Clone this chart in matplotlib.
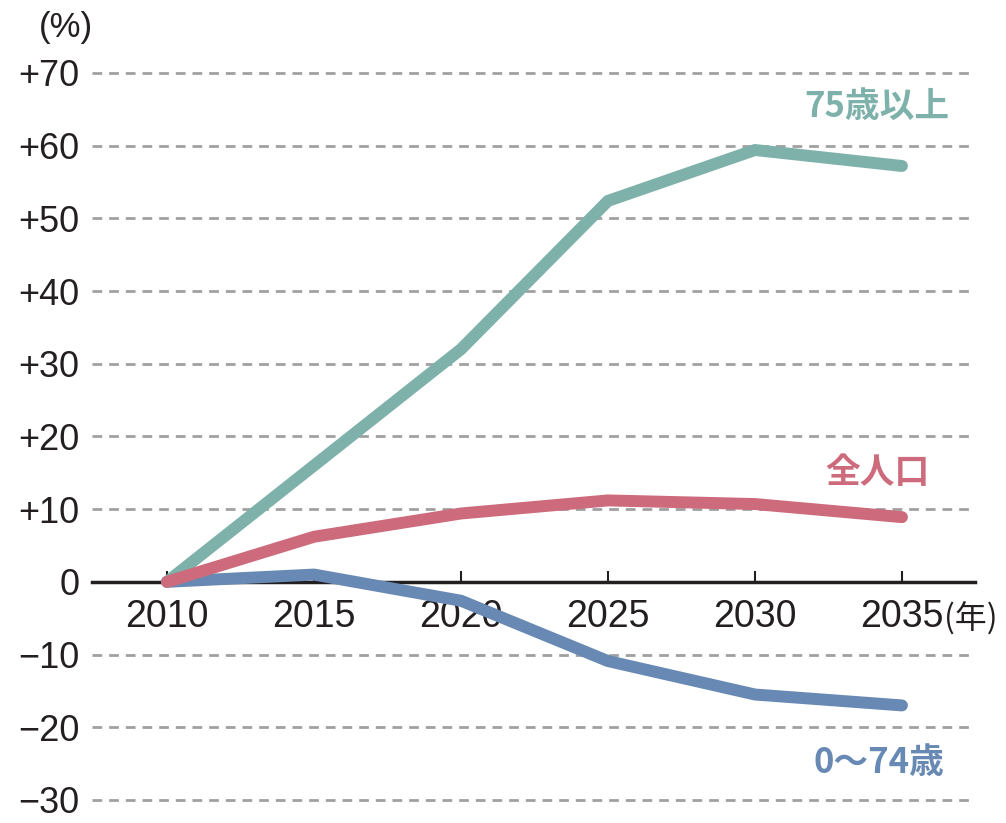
import matplotlib
matplotlib.use("Agg")
import matplotlib.pyplot as plt

years = ["2010", "2015", "2020", "2025", "2030", "2035"]
age75_plus = [0, 16, 32, 52.4, 59.4, 57.2]
total_pop = [0, 6.2, 9.4, 11.2, 10.7, 8.9]
age0_74 = [0, 1.0, -2.6, -10.9, -15.5, -17.0]
yticks = [-30, -20, -10, 0, 10, 20, 30, 40, 50, 60, 70]
ytick_labels = ["−30", "−20", "−10", "0", "+10", "+20", "+30", "+40", "+50", "+60", "+70"]

teal = "#7fb1ab"
pink = "#cd6a7c"
blue = "#6789b4"
txt = "#231f20"

num_font = ["Liberation Sans Narrow", "Liberation Sans", "DejaVu Sans"]
cjk_font = ["Noto Sans CJK JP", "DejaVu Sans"]

fig = plt.figure(figsize=(10.06, 8.23), dpi=100)
ax = fig.add_axes([0.0915, 0.0192, 0.8777, 0.901])

x = list(range(len(years)))
lw = 8.6
ax.plot(x, age75_plus, color=teal, lw=lw, solid_capstyle="round", solid_joinstyle="round", zorder=5)
ax.plot(x, age0_74, color=blue, lw=lw, solid_capstyle="round", solid_joinstyle="round", zorder=6)
ax.plot(x, total_pop, color=pink, lw=lw, solid_capstyle="round", solid_joinstyle="round", zorder=7)

ax.set_xlim(-0.51, 5.497)
ax.set_ylim(-31, 71)

# dashed grid
for v in yticks:
    if v != 0:
        ax.axhline(v, color="#a0a0a0", lw=2, dashes=(3.5, 2.5), zorder=1)

# spines
for s in ["left", "right", "top"]:
    ax.spines[s].set_visible(False)
ax.spines["bottom"].set_position(("data", 0))
ax.spines["bottom"].set_linewidth(2.5)
ax.spines["bottom"].set_color("#231f20")
ax.spines["bottom"].set_zorder(3)

ax.set_xticks(x)
ax.set_xticklabels(years, fontsize=27, color=txt, family=num_font)
ax.tick_params(axis="x", direction="in", length=8, width=1.5, color=txt, pad=12)

ax.set_yticks(yticks)
ax.set_yticklabels(ytick_labels, fontsize=26, color=txt, family=num_font)
ax.tick_params(axis="y", length=0, pad=9)

fig.text(66 / 1006, 1 - 28 / 823, "(%)", fontsize=25, color=txt, family=num_font,
         ha="center", va="center")
fig.text(971 / 1006, 1 - 619 / 823, "(年)", fontsize=23, color=txt, family=cjk_font,
         ha="center", va="center")

ax.text(4.83, 65.4, "75歳以上", fontsize=25, color=teal, weight="bold", family=cjk_font,
        ha="center", va="center")
ax.text(4.83, 15.0, "全人口", fontsize=25, color=pink, weight="bold", family=cjk_font,
        ha="center", va="center")
ax.text(4.84, -24.9, "0〜74歳", fontsize=25, color=blue, weight="bold", family=cjk_font,
        ha="center", va="center")

fig.savefig("out.png", dpi=100)
